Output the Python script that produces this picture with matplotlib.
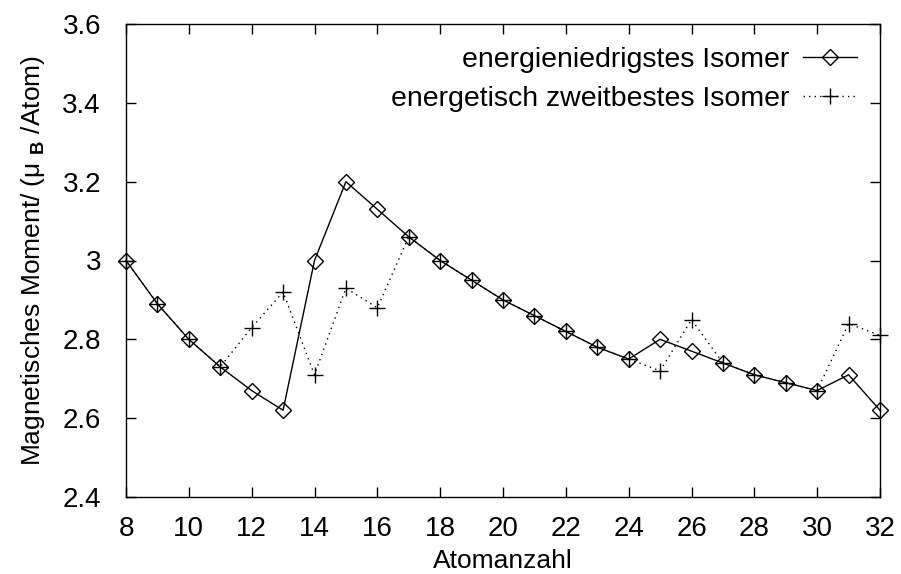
import matplotlib
matplotlib.use('Agg')
import matplotlib.pyplot as plt

plt.rcParams['font.family'] = ['Liberation Sans', 'DejaVu Sans']
plt.rcParams['mathtext.fontset'] = 'custom'
plt.rcParams['mathtext.rm'] = 'Liberation Sans'
plt.rcParams['mathtext.bf'] = 'Liberation Sans:bold'

atoms = [8, 9, 10, 11, 12, 13, 14, 15, 16, 17, 18, 19, 20, 21, 22, 23, 24,
         25, 26, 27, 28, 29, 30, 31, 32]
lowest = [3.00, 2.89, 2.80, 2.73, 2.67, 2.62, 3.00, 3.20, 3.13, 3.06, 3.00,
          2.95, 2.90, 2.86, 2.82, 2.78, 2.75, 2.80, 2.77, 2.74, 2.71, 2.69,
          2.67, 2.71, 2.62]
second = [3.00, 2.89, 2.80, 2.73, 2.83, 2.92, 2.71, 2.93, 2.88, 3.06, 3.00,
          2.95, 2.90, 2.86, 2.82, 2.78, 2.75, 2.72, 2.85, 2.74, 2.71, 2.69,
          2.67, 2.84, 2.81]
xticks = list(range(8, 33, 2))
yticks = [2.4, 2.6, 2.8, 3.0, 3.2, 3.4, 3.6]
ytick_labels = ['2.4', '2.6', '2.8', '3', '3.2', '3.4', '3.6']

fig = plt.figure(figsize=(9.01, 5.74), dpi=100)
ax = fig.add_axes([126 / 901, 1 - 497 / 574, (880 - 126) / 901, (497 - 24) / 574])

ax.plot(atoms, lowest, color='black', linewidth=1, marker='D', markersize=8,
        markerfacecolor='none', markeredgewidth=1,
        label='energieniedrigstes Isomer', clip_on=False, zorder=3)
ax.plot(atoms, second, color='black', linewidth=1, linestyle=(0, (1, 3)),
        marker='+', markersize=11, markeredgewidth=1,
        label='energetisch zweitbestes Isomer', clip_on=False, zorder=3)

ax.set_xlim(8, 32)
ax.set_ylim(2.4, 3.6)
ax.set_xticks(xticks)
ax.set_yticks(yticks)
ax.set_yticklabels(ytick_labels)
ax.tick_params(direction='in', top=True, right=True, length=7.5, width=1,
               labelsize=20)
ax.tick_params(axis='y', pad=18)
ax.tick_params(axis='x', pad=14)
for s in ax.spines.values():
    s.set_linewidth(1)

ax.set_xlabel('Atomanzahl', fontsize=19, labelpad=5)
ax.set_ylabel(r'Magnetisches Moment/ (μ $_{\mathbf{B}}$ /Atom)', fontsize=19,
              labelpad=11)

ax.legend(loc='upper right', frameon=False, markerfirst=False, fontsize=20.5,
          handlelength=1.9, handletextpad=0.5, labelspacing=0.45,
          borderaxespad=0.4)

plt.savefig('out.png', dpi=100)
plt.close()
